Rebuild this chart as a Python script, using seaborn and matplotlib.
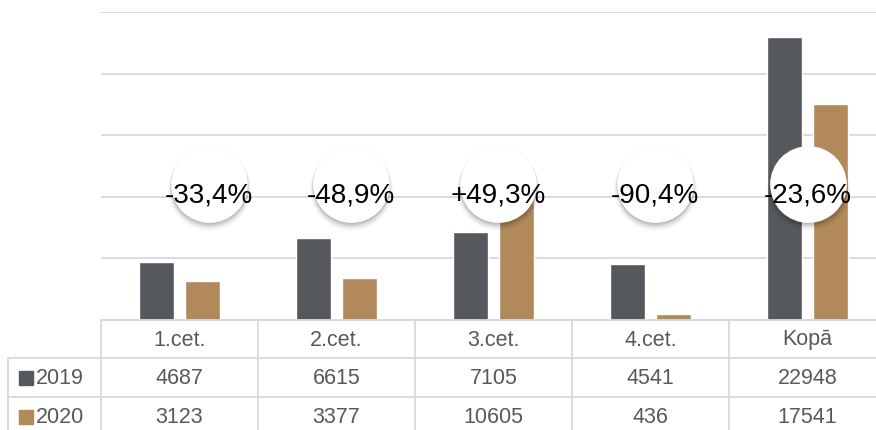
import pandas as pd
import matplotlib.pyplot as plt
import matplotlib.patheffects as pe
from matplotlib.lines import Line2D
from matplotlib.patches import Rectangle
from matplotlib.transforms import blended_transform_factory
import seaborn as sns

# Datos
ceturksni = ['1.cet.', '2.cet.', '3.cet.', '4.cet.', 'Kopā']
gadi = ['2019', '2020']
v2019 = [4687, 6615, 7105, 4541, 22948]
v2020 = [3123, 3377, 10605, 436, 17541]
izmainas = ['-33,4%', '-48,9%', '+49,3%', '-90,4%', '-23,6%']

krasas = ['#55585d', '#b1895a']

df = pd.DataFrame({
    'cet': ceturksni * 2,
    'gads': [gadi[0]] * 5 + [gadi[1]] * 5,
    'vertiba': v2019 + v2020,
})

sns.set_style('white')
plt.rcParams['font.family'] = ['Liberation Sans', 'DejaVu Sans']

W, H = 876, 431
fig = plt.figure(figsize=(W / 100, H / 100), dpi=100)
base_y = 320.7
top_y = 13.2
ax = fig.add_axes([101 / W, (H - base_y) / H, (886 - 101) / W, (base_y - top_y) / H])

sns.barplot(data=df, x='cet', y='vertiba', hue='gads', palette=krasas, saturation=1,
            width=0.58, gap=0.24, ax=ax, legend=False, zorder=2)

ax.set_ylim(0, 25000)
ax.set_xlim(-0.5, 4.5)
ax.set_yticks(range(0, 25001, 5000))
ax.yaxis.grid(True, color='#d9d9d9', lw=1.3, zorder=0)
ax.set_axisbelow(True)
ax.tick_params(left=False, bottom=False, labelleft=False, labelbottom=False)
ax.set_xlabel('')
ax.set_ylabel('')
for s in ax.spines.values():
    s.set_visible(False)

# Apli ar procentiem
apl_x = [0.19, 1.09, 2.03, 3.03, 4.0]
apl_y = 11070
upy = 81.3  # vertibas uz pikseli
# maiga ena: vairaki slani
for ds, dy, a in [(1.16, -5, 0.03), (1.10, -4, 0.05), (1.05, -3, 0.07), (1.02, -2, 0.08), (1.0, -1, 0.06)]:
    ax.scatter(apl_x, [apl_y + dy * upy] * 5, s=3050 * ds, color='black', alpha=a,
               zorder=4, clip_on=False, linewidths=0)
ax.scatter(apl_x, [apl_y] * 5, s=3050 * 1.03, color='#bdbdbd', alpha=0.15, zorder=4,
           clip_on=False, linewidths=0)
ax.scatter(apl_x, [apl_y] * 5, s=3050, color='white', zorder=5, clip_on=False, linewidths=0)
for x, t in zip(apl_x, izmainas):
    ax.text(x, (base_y - 202) * upy, t, ha='center', va='baseline', fontsize=20,
            color='black', zorder=6)

# Tabula zem grafika
def fy(y):
    return 1 - y / H

def fx(x):
    return x / W

lc = '#d9d9d9'
tr = blended_transform_factory(ax.transData, fig.transFigure)
fig.add_artist(Line2D([fx(101), 1], [fy(base_y)] * 2, color=lc, lw=1.3))
for y in [359, 398]:
    fig.add_artist(Line2D([fx(8), 1], [fy(y)] * 2, color=lc, lw=1.3))
fig.add_artist(Line2D([fx(8)] * 2, [fy(359), 0], color=lc, lw=1.3))
for k in range(5):
    fig.add_artist(Line2D([k - 0.5] * 2, [fy(base_y), 0], color=lc, lw=1.3, transform=tr))

teksta_krasa = '#595959'
for i, c in enumerate(ceturksni):
    fig.text(i, fy(340), c, transform=tr, ha='center', va='center', fontsize=15.5, color=teksta_krasa)
    fig.text(i, fy(378.5), str(v2019[i]), transform=tr, ha='center', va='center', fontsize=15.5, color=teksta_krasa)
    fig.text(i, fy(417.5), str(v2020[i]), transform=tr, ha='center', va='center', fontsize=15.5, color=teksta_krasa)

for g, yc, kr in zip(gadi, [378.5, 417.5], krasas):
    fig.add_artist(Rectangle((fx(19), fy(yc + 7)), 14 / W, 14 / H, color=kr, transform=fig.transFigure))
    fig.text(fx(36), fy(yc), g, ha='left', va='center', fontsize=15.5, color=teksta_krasa)

fig.savefig('out.png', dpi=100)
